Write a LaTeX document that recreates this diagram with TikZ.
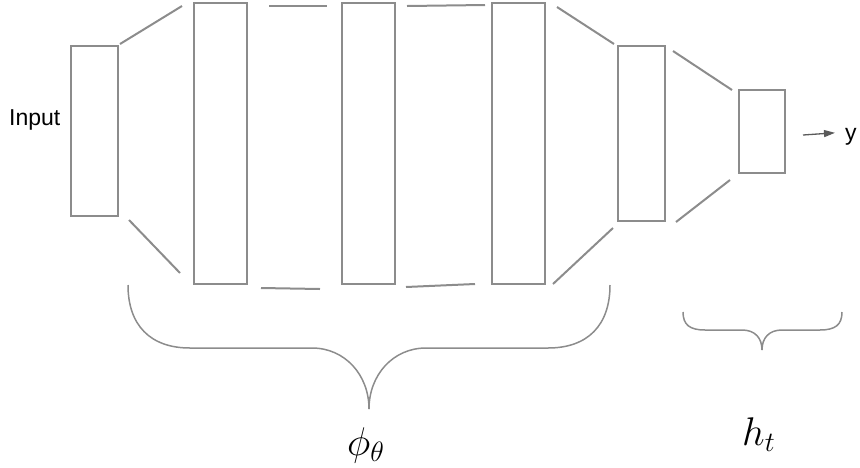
\documentclass[tikz,border=0pt]{standalone}
\usepackage{fix-cm}
\usepackage{fontspec}
\setmainfont{Liberation Sans}
\usetikzlibrary{calc,arrows.meta}
\definecolor{linegray}{RGB}{140,140,140}
\definecolor{arrowgray}{RGB}{90,90,90}
\tikzset{
  layer/.style={draw=linegray, line width=2pt, inner sep=0pt, fill=white},
  conn/.style={draw=linegray, line width=2pt},
  brace/.style={draw=linegray, line width=1.5pt},
  lbl/.style={inner sep=0pt, font=\fontsize{23}{27}\selectfont},
  mathlbl/.style={inner sep=0pt, font=\fontsize{40}{48}\selectfont}
}
\begin{document}
\begin{tikzpicture}[x=1pt,y=-1pt]
\useasboundingbox (0,0) rectangle (860,467);

% layers of the network
\node[layer, minimum width=47pt, minimum height=170pt] (in) at (94.5,131) {};
\node[layer, minimum width=53pt, minimum height=281pt] (b2) at (220.5,143.5) {};
\node[layer, minimum width=53pt, minimum height=281pt] (b3) at (368.5,143.5) {};
\node[layer, minimum width=53pt, minimum height=281pt] (b4) at (518.5,143.5) {};
\node[layer, minimum width=47pt, minimum height=175pt] (b5) at (641.5,133.5) {};
\node[layer, minimum width=46pt, minimum height=83pt] (b6) at (762,131.5) {};

% labels
\node[lbl, anchor=base west] (inlbl) at (9,125) {Input};
\node[lbl, anchor=base west] (ylbl) at (845,140) {y};

% links between consecutive layers
\draw[conn] ($(in.north east)+(1,-1)$) -- ($(b2.north west)+(-11,4)$);
\draw[conn] ($(in.south east)+(10,3)$) -- ($(b2.south west)+(-13,-12)$);
\draw[conn] ($(b2.north east)+(21,4)$) -- ($(b3.north west)+(-14,4)$);
\draw[conn] ($(b2.south east)+(13,3)$) -- ($(b3.south west)+(-21,4)$);
\draw[conn] ($(b3.north east)+(11,4)$) -- ($(b4.north west)+(-6,3)$);
\draw[conn] ($(b3.south east)+(10,2)$) -- ($(b4.south west)+(-16,-1)$);
\draw[conn] ($(b4.north east)+(11,5)$) -- ($(b5.north west)+(-3,-1)$);
\draw[conn] ($(b4.south east)+(7,-1)$) -- ($(b5.south west)+(-4,6)$);
\draw[conn] ($(b5.north east)+(7,6)$) -- ($(b6.north west)+(-6,1)$);
\draw[conn] ($(b5.south east)+(10,0)$) -- ($(b6.south west)+(-8,6)$);

% output arrow
\draw[draw=arrowgray, line width=1.3pt, -{Triangle[length=11pt,width=7pt]}]
  ($(b6.east)+(17,3.5)$) -- ($(ylbl.west)+(-10,-3.5)$);

% feature extractor brace
\coordinate (ftip) at (369,409);
\draw[brace] (128,285) .. controls (128,325) and (150,348) .. (190,348) -- (312,348)
  .. controls (345,348) and (369,375) .. (ftip);
\draw[brace] (610,285) .. controls (610,325) and (588,348) .. (548,348) -- (426,348)
  .. controls (393,348) and (369,375) .. (ftip);
\node[mathlbl, anchor=base west] (phi) at (347,455) {$\phi_\theta$};

% head brace
\coordinate (htip) at (762,350);
\draw[brace] (683,312) .. controls (683,325) and (690,330) .. (705,330) -- (742,330)
  .. controls (755,330) and (762,338) .. (htip);
\draw[brace] (842,312) .. controls (842,325) and (835,330) .. (820,330) -- (782,330)
  .. controls (769,330) and (762,338) .. (htip);
\node[mathlbl, anchor=base west] (ht) at (742,445) {$h_t$};
\end{tikzpicture}
\end{document}
